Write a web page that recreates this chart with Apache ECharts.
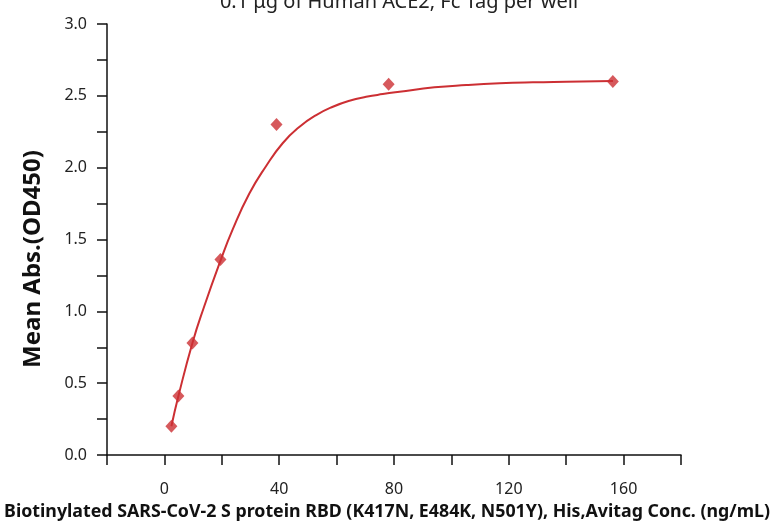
<!DOCTYPE html>
<html>
<head>
<meta charset="utf-8">
<script src="https://cdn.jsdelivr.net/npm/echarts@6/dist/echarts.min.js"></script>
<style>html,body{margin:0;padding:0;background:#fff;}#c{width:777px;height:524px;}</style>
</head>
<body>
<div id="c"></div>
<script>
const titleText = '0.1 μg of Human ACE2, Fc Tag per well';
const xTitle = 'Biotinylated SARS-CoV-2 S protein RBD (K417N, E484K, N501Y), His,Avitag Conc. (ng/mL)';
const yTitle = 'Mean Abs.(OD450)';
const concentrations = [2.44, 4.88, 9.77, 19.53, 39.06, 78.13, 156.25];
const meanAbs = [0.20, 0.41, 0.78, 1.36, 2.30, 2.58, 2.60];
const curveX = [2.44, 4.88, 9.77, 13.8, 19.5, 23.8, 29.6, 35.4, 41.2, 47.1, 52.9, 58.7, 64.5, 70.3, 76.1, 81.9, 94.1, 105.2, 116.8, 128.4, 140, 156.3];
const curveY = [0.20, 0.41, 0.78, 1.03, 1.35, 1.57, 1.82, 2.01, 2.17, 2.285, 2.366, 2.424, 2.466, 2.493, 2.512, 2.528, 2.559, 2.575, 2.587, 2.594, 2.598, 2.603];
const xLabels = [0, 40, 80, 120, 160];
const yLabels = [0, 0.5, 1.0, 1.5, 2.0, 2.5, 3.0];

const chart = echarts.init(document.getElementById('c'));
const red = '#cc2f33';
const font = '"Noto Sans", sans-serif';
chart.setOption({
  animation: false,
  backgroundColor: '#fff',
  title: {
    text: titleText, left: 394, textAlign: 'center', top: -13,
    textStyle: {fontSize: 20, fontWeight: 'normal', color: '#222', fontFamily: font}
  },
  grid: {left: 107, right: 96, top: 24, bottom: 69, containLabel: false},
  xAxis: {
    type: 'value', min: -20, max: 180, interval: 20,
    axisLine: {show: true, onZero: false, lineStyle: {color: '#111', width: 1.5}},
    axisTick: {show: true, length: 10, lineStyle: {color: '#111', width: 1.5}},
    splitLine: {show: false},
    axisLabel: {
      margin: 26, fontSize: 16, color: '#222', fontFamily: font,
      formatter: v => xLabels.indexOf(v) >= 0 ? String(v) : ''
    }
  },
  yAxis: {
    type: 'value', min: 0, max: 3, interval: 0.25,
    axisLine: {show: true, onZero: false, lineStyle: {color: '#111', width: 1.5}},
    axisTick: {show: true, length: 10, lineStyle: {color: '#111', width: 1.5}},
    splitLine: {show: false},
    axisLabel: {
      margin: 20, fontSize: 16, color: '#222', fontFamily: font,
      formatter: v => yLabels.some(l => Math.abs(l - v) < 1e-9) ? v.toFixed(1) : ''
    }
  },
  graphic: [
    {type: 'text', x: 33, y: 259, rotation: Math.PI / 2,
     style: {text: yTitle, fill: '#111', font: 'bold 24px "Noto Sans", sans-serif', align: 'center', verticalAlign: 'middle'}},
    {type: 'text', x: 387, y: 512,
     style: {text: xTitle, fill: '#111', font: 'bold 17.8px "Noto Sans", sans-serif', align: 'center', verticalAlign: 'middle'}}
  ],
  series: [
    {
      type: 'line', data: curveX.map((x, i) => [x, curveY[i]]),
      smooth: true, showSymbol: false, symbol: 'none',
      lineStyle: {color: red, width: 2}, z: 2
    },
    {
      type: 'scatter', data: concentrations.map((x, i) => [x, meanAbs[i]]),
      symbol: 'diamond', symbolSize: [12, 13],
      itemStyle: {color: red}, z: 3
    }
  ]
});
</script>
</body>
</html>
